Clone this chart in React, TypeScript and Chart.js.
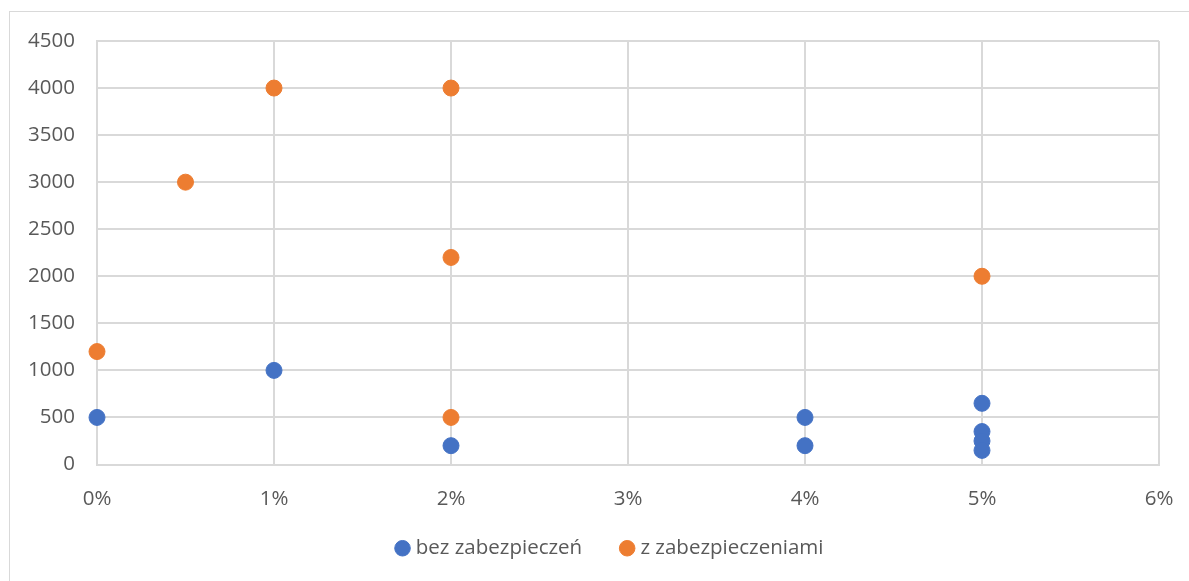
import React, { useEffect, useRef } from "react";
import { Chart, registerables } from "chart.js";

Chart.register(...registerables);

const seriesNames = ["bez zabezpieczeń", "z zabezpieczeniami"];
const seriesColors = ["#4472C4", "#ED7D31"];

const bezX = [0, 0.01, 0.02, 0.04, 0.04, 0.05, 0.05, 0.05, 0.05];
const bezY = [500, 1000, 200, 500, 200, 650, 350, 250, 150];

const zX = [0, 0.005, 0.01, 0.02, 0.02, 0.02, 0.05];
const zY = [1200, 3000, 4000, 4000, 2200, 500, 2000];

const xMin = 0;
const xMax = 0.06;
const xStep = 0.01;
const yMin = 0;
const yMax = 4500;
const yStep = 500;

const FONT = "'Open Sans', 'Noto Sans', sans-serif";
const TEXT = "#595959";
const GRID = "#d9d9d9";
const FS = 20.5;

const LEGEND_DX = 32;
const LEGEND_DY = -12.5;

function pts(xs: number[], ys: number[]) {
  return xs.map((x, i) => ({ x, y: ys[i] }));
}

const shiftLegend = {
  id: "shiftLegend",
  afterLayout(chart: any) {
    const l = chart.legend;
    if (!l) return;
    l.left += LEGEND_DX;
    l.right += LEGEND_DX;
    l.top += LEGEND_DY;
    l.bottom += LEGEND_DY;
  },
};

export default function App() {
  const ref = useRef<HTMLCanvasElement | null>(null);
  useEffect(() => {
    if (!ref.current) return;
    const chart = new Chart(ref.current, {
      type: "scatter",
      data: {
        datasets: [
          {
            label: seriesNames[0],
            data: pts(bezX, bezY),
            backgroundColor: seriesColors[0],
            borderColor: seriesColors[0],
            pointRadius: 8,
            pointHoverRadius: 8,
            clip: false as any,
          },
          {
            label: seriesNames[1],
            data: pts(zX, zY),
            backgroundColor: seriesColors[1],
            borderColor: seriesColors[1],
            pointRadius: 8,
            pointHoverRadius: 8,
            clip: false as any,
          },
        ],
      },
      plugins: [shiftLegend],
      options: {
        animation: false,
        responsive: false,
        maintainAspectRatio: false,
        layout: { padding: { left: 0, right: 30, top: 41, bottom: 0 } },
        plugins: {
          tooltip: { enabled: false },
          legend: {
            position: "bottom",
            labels: {
              usePointStyle: true,
              pointStyle: "circle",
              boxWidth: 6,
              boxHeight: 11,
              padding: 42,
              color: TEXT,
              font: { family: FONT, size: FS },
            },
          },
        },
        scales: {
          x: {
            type: "linear",
            min: xMin,
            max: xMax,
            ticks: {
              stepSize: xStep,
              color: TEXT,
              padding: 22,
              font: { family: FONT, size: FS },
              callback: (v: any) => Math.round(Number(v) * 100) + "%",
            },
            grid: { color: GRID, lineWidth: 2, drawTicks: false },
            border: { color: GRID, width: 2 },
            afterFit: (s: any) => {
              s.height = 44;
              s.paddingRight = 0;
              s.paddingLeft = 0;
            },
          },
          y: {
            type: "linear",
            min: yMin,
            max: yMax,
            ticks: {
              stepSize: yStep,
              color: TEXT,
              padding: 22,
              font: { family: FONT, size: FS },
              callback: (v: any) => String(Math.round(Number(v))),
            },
            grid: { color: GRID, lineWidth: 2, drawTicks: false },
            border: { color: GRID, width: 2 },
            afterFit: (s: any) => {
              s.width = 97;
            },
          },
        },
      },
    });
    return () => chart.destroy();
  }, []);
  return (
    <div>
      <div
        style={{
          position: "fixed",
          left: 9,
          top: 11,
          right: -5,
          bottom: -5,
          border: "1px solid #d9d9d9",
          background: "#fff",
        }}
      />
      <canvas
        ref={ref}
        width={1189}
        height={581}
        style={{ position: "fixed", left: 0, top: 0, width: 1189, height: 581 }}
      />
    </div>
  );
}
